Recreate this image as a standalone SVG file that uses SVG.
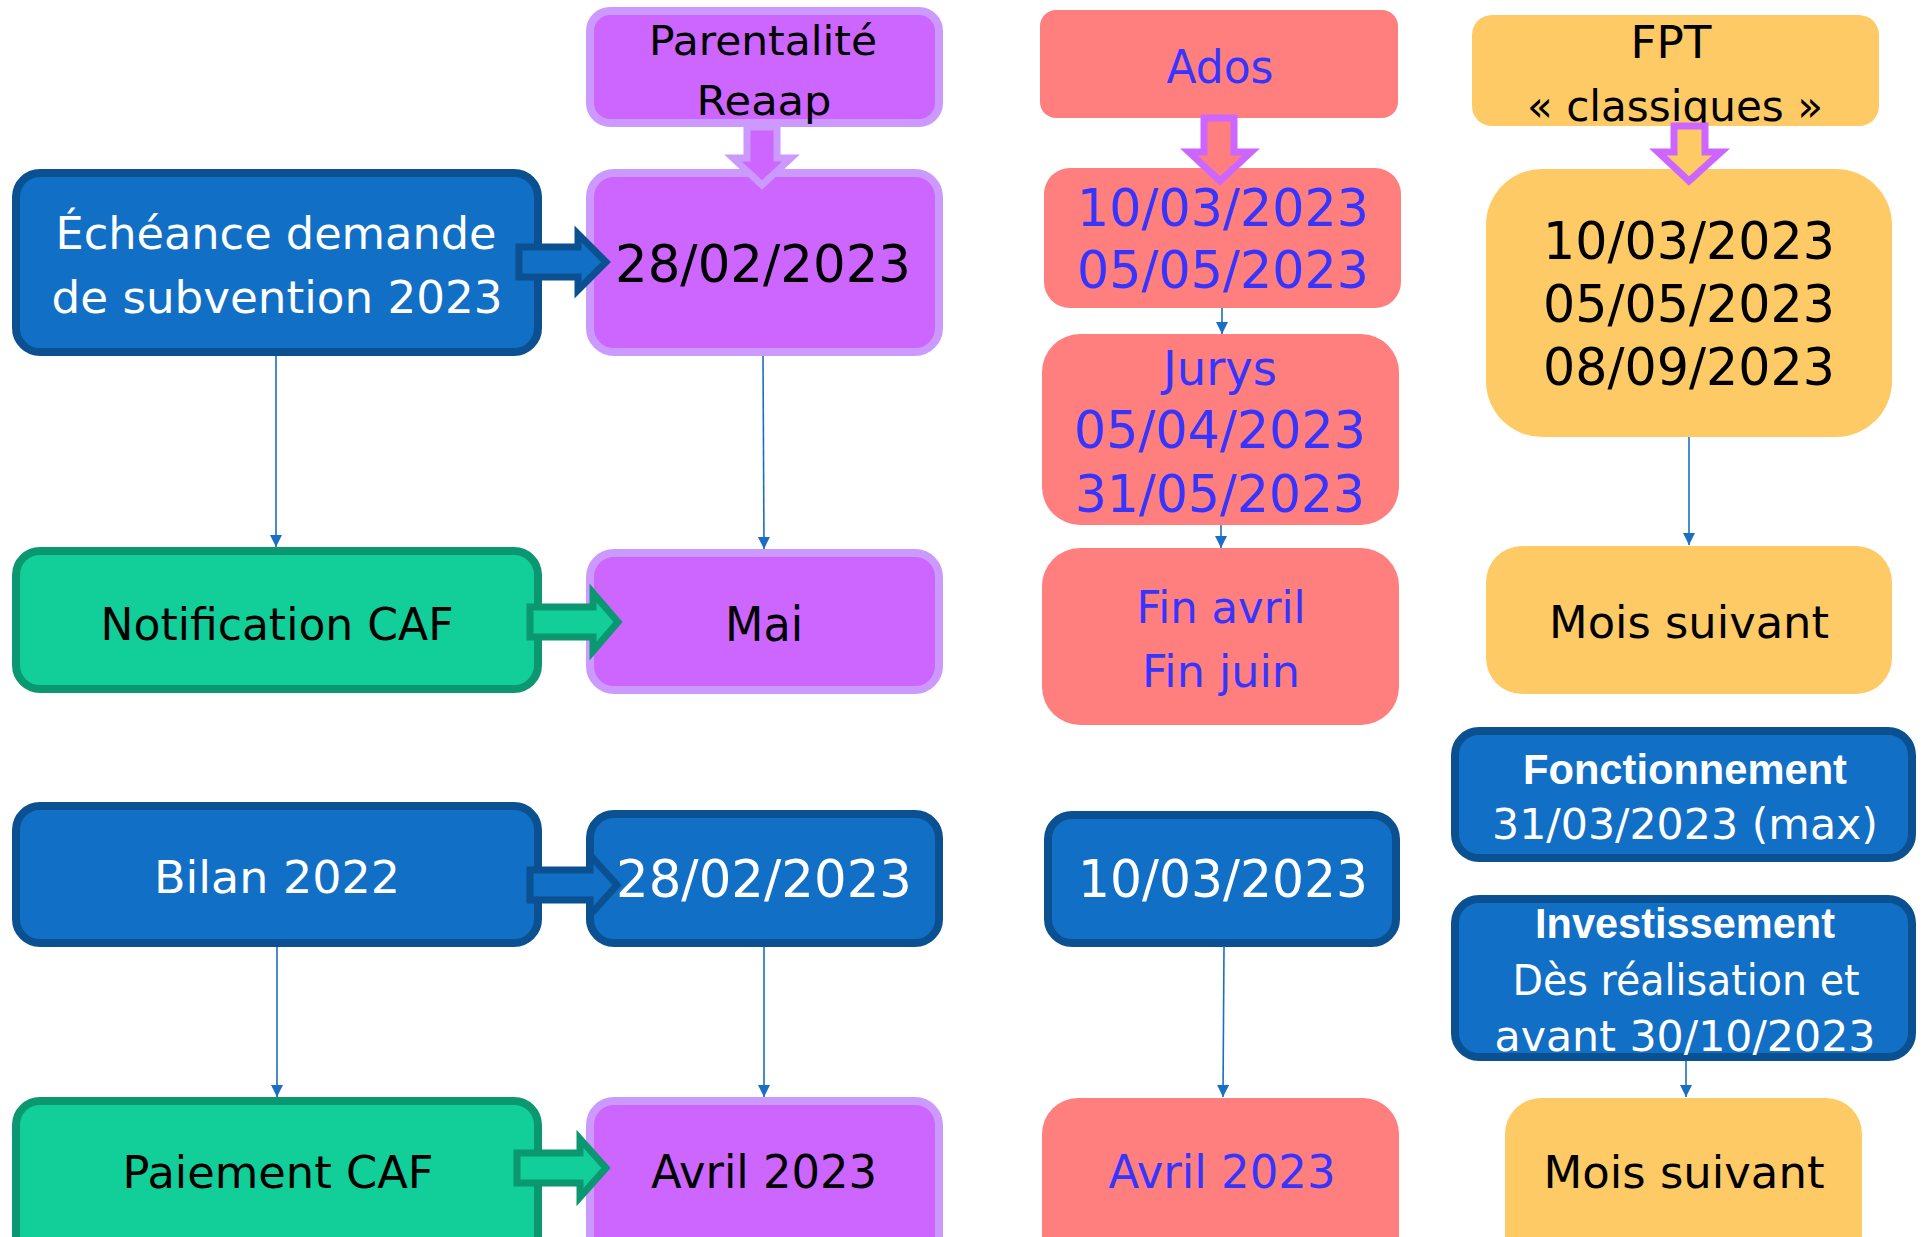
<svg xmlns="http://www.w3.org/2000/svg" width="1923" height="1237" viewBox="0 0 1923 1237">
<defs>
<style>
.t{font-family:"DejaVu Sans","Liberation Sans",sans-serif;text-anchor:middle}
.b{font-family:"Liberation Sans","DejaVu Sans",sans-serif;font-weight:bold;text-anchor:middle}
.blue{fill:#116FC5;stroke:#0B5091;stroke-width:8}
.green{fill:#12CE99;stroke:#0B9770;stroke-width:8}
.purple{fill:#CC66FF;stroke:#CC99FF;stroke-width:8}
.salmon{fill:#FF7F7F}
.orange{fill:#FECA66}
.wt{fill:#FFFFFF}
.bk{fill:#000000}
.bl{fill:#3535FF}
.conn{stroke:#1A6FC4;stroke-width:1.6;fill:none;marker-end:url(#ah)}
</style>
<marker id="ah" viewBox="0 0 12 16" refX="12" refY="6" markerWidth="12" markerHeight="16" markerUnits="userSpaceOnUse" orient="auto">
<path d="M0,0 L12,6 L0,12 Z" fill="#1A6FC4"/>
</marker>
</defs>
<rect width="1923" height="1237" fill="#FFFFFF"/>

<g id="echeance"><rect class="blue" x="16" y="173" width="522" height="179" rx="24"/>
<text class="t wt" x="276" y="249" font-size="45" textLength="441" lengthAdjust="spacingAndGlyphs">Échéance demande</text>
<text class="t wt" x="277" y="313" font-size="45" textLength="451" lengthAdjust="spacingAndGlyphs">de subvention 2023</text></g>

<g id="notification"><rect class="green" x="16" y="551" width="522" height="138" rx="24"/>
<text class="t bk" x="277" y="640" font-size="44" textLength="353" lengthAdjust="spacingAndGlyphs">Notification CAF</text></g>

<g id="bilan"><rect class="blue" x="16" y="806" width="522" height="137" rx="24"/>
<text class="t wt" x="277" y="893" font-size="44" textLength="246" lengthAdjust="spacingAndGlyphs">Bilan 2022</text></g>

<g id="paiement"><rect class="green" x="16" y="1101" width="522" height="170" rx="24"/>
<text class="t bk" x="278" y="1188" font-size="44" textLength="311" lengthAdjust="spacingAndGlyphs">Paiement CAF</text></g>

<g id="parentalite"><rect class="purple" x="590" y="11" width="349" height="112" rx="20"/>
<text class="t bk" x="763" y="55" font-size="41" textLength="228" lengthAdjust="spacingAndGlyphs">Parentalité</text>
<text class="t bk" x="764" y="115" font-size="41" textLength="135" lengthAdjust="spacingAndGlyphs">Reaap</text></g>

<g id="reaap-date"><rect class="purple" x="590" y="173" width="349" height="179" rx="24"/>
<text class="t bk" x="763" y="282" font-size="51" textLength="296" lengthAdjust="spacingAndGlyphs">28/02/2023</text></g>

<g id="mai"><rect class="purple" x="590" y="553" width="349" height="137" rx="24"/>
<text class="t bk" x="764" y="641" font-size="48" textLength="78" lengthAdjust="spacingAndGlyphs">Mai</text></g>

<g id="bilan-reaap"><rect class="blue" x="590" y="814" width="349" height="129" rx="24"/>
<text class="t wt" x="764" y="897" font-size="51" textLength="296" lengthAdjust="spacingAndGlyphs">28/02/2023</text></g>

<g id="avril-reaap"><rect class="purple" x="590" y="1101" width="349" height="170" rx="24"/>
<text class="t bk" x="764" y="1188" font-size="46" textLength="226" lengthAdjust="spacingAndGlyphs">Avril 2023</text></g>

<g id="ados"><rect class="salmon" x="1040" y="10" width="358" height="108" rx="16"/>
<text class="t bl" x="1220" y="83" font-size="46" textLength="107" lengthAdjust="spacingAndGlyphs">Ados</text></g>

<g id="ados-dates"><rect class="salmon" x="1044" y="168" width="357" height="140" rx="26"/>
<text class="t bl" x="1223" y="226" font-size="51" textLength="292" lengthAdjust="spacingAndGlyphs">10/03/2023</text>
<text class="t bl" x="1223" y="288" font-size="51" textLength="292" lengthAdjust="spacingAndGlyphs">05/05/2023</text></g>

<g id="jurys"><rect class="salmon" x="1042" y="334" width="357" height="191" rx="38"/>
<text class="t bl" x="1220" y="385" font-size="48" textLength="114" lengthAdjust="spacingAndGlyphs">Jurys</text>
<text class="t bl" x="1220" y="448" font-size="51" textLength="292" lengthAdjust="spacingAndGlyphs">05/04/2023</text>
<text class="t bl" x="1220" y="512" font-size="51" textLength="290" lengthAdjust="spacingAndGlyphs">31/05/2023</text></g>

<g id="fin"><rect class="salmon" x="1042" y="548" width="357" height="177" rx="38"/>
<text class="t bl" x="1221" y="623" font-size="45" textLength="169" lengthAdjust="spacingAndGlyphs">Fin avril</text>
<text class="t bl" x="1221" y="687" font-size="45" textLength="158" lengthAdjust="spacingAndGlyphs">Fin juin</text></g>

<g id="bilan-ados"><rect class="blue" x="1048" y="815" width="348" height="128" rx="24"/>
<text class="t wt" x="1223" y="897" font-size="51" textLength="290" lengthAdjust="spacingAndGlyphs">10/03/2023</text></g>

<g id="avril-ados"><rect class="salmon" x="1042" y="1098" width="357" height="180" rx="36"/>
<text class="t bl" x="1222" y="1188" font-size="46" textLength="227" lengthAdjust="spacingAndGlyphs">Avril 2023</text></g>

<g id="fpt"><rect class="orange" x="1472" y="15" width="407" height="111" rx="20"/>
<text class="t bk" x="1671" y="58" font-size="44" textLength="81" lengthAdjust="spacingAndGlyphs">FPT</text>
<text class="t bk" x="1675" y="121" font-size="43" textLength="296" lengthAdjust="spacingAndGlyphs">« classiques »</text></g>

<g id="fpt-dates"><rect class="orange" x="1486" y="169" width="406" height="268" rx="56"/>
<text class="t bk" x="1689" y="259" font-size="51" textLength="292" lengthAdjust="spacingAndGlyphs">10/03/2023</text>
<text class="t bk" x="1689" y="322" font-size="51" textLength="292" lengthAdjust="spacingAndGlyphs">05/05/2023</text>
<text class="t bk" x="1689" y="385" font-size="51" textLength="292" lengthAdjust="spacingAndGlyphs">08/09/2023</text></g>

<g id="fpt-mois"><rect class="orange" x="1486" y="546" width="406" height="148" rx="36"/>
<text class="t bk" x="1689" y="638" font-size="45" textLength="280" lengthAdjust="spacingAndGlyphs">Mois suivant</text></g>

<g id="fonctionnement"><rect class="blue" x="1455" y="731" width="457" height="127" rx="24"/>
<text class="b wt" x="1685" y="784" font-size="42" textLength="324" lengthAdjust="spacingAndGlyphs">Fonctionnement</text>
<text class="t wt" x="1685" y="839" font-size="42" textLength="386" lengthAdjust="spacingAndGlyphs">31/03/2023 (max)</text></g>

<g id="investissement"><rect class="blue" x="1455" y="899" width="457" height="158" rx="24"/>
<text class="b wt" x="1685" y="938" font-size="42" textLength="300" lengthAdjust="spacingAndGlyphs">Investissement</text>
<text class="t wt" x="1686" y="995" font-size="42" textLength="347" lengthAdjust="spacingAndGlyphs">Dès réalisation et</text>
<text class="t wt" x="1685" y="1051" font-size="42" textLength="381" lengthAdjust="spacingAndGlyphs">avant 30/10/2023</text></g>

<g id="fpt-mois-bilan"><rect class="orange" x="1505" y="1098" width="357" height="180" rx="36"/>
<text class="t bk" x="1684" y="1188" font-size="45" textLength="281" lengthAdjust="spacingAndGlyphs">Mois suivant</text></g>

<g id="connectors">
<line class="conn" x1="276" y1="356" x2="276" y2="547"/>
<line class="conn" x1="763" y1="356" x2="764" y2="549"/>
<line class="conn" x1="1222" y1="308" x2="1222" y2="334"/>
<line class="conn" x1="1221" y1="525" x2="1221" y2="548"/>
<line class="conn" x1="1689" y1="437" x2="1689" y2="545"/>
<line class="conn" x1="277" y1="947" x2="277" y2="1097"/>
<line class="conn" x1="764" y1="947" x2="764" y2="1097"/>
<line class="conn" x1="1224" y1="946" x2="1223" y2="1097"/>
<line class="conn" x1="1686" y1="1061" x2="1686" y2="1097"/>
<g stroke-width="7" stroke-linejoin="miter">
<polygon points="519,247 578,247 578,234 606,262 578,290 578,277 519,277" fill="#116FC5" stroke="#0B5091"/>
<polygon points="530,607 593,607 593,593 618,622 593,651 593,637 530,637" fill="#12CE99" stroke="#0B9770"/>
<polygon points="530,870 590,870 590,855 617,885 590,915 590,900 530,900" fill="#116FC5" stroke="#0B5091"/>
<polygon points="517,1153 580,1153 580,1139 606,1168 580,1197 580,1183 517,1183" fill="#12CE99" stroke="#0B9770"/>
<polygon points="747,127 777,127 777,158 791,158 762,185 733,158 747,158" fill="#CC66FF" stroke="#CC99FF"/>
<polygon points="1204,118 1234,118 1234,152 1251,152 1220,181 1189,152 1204,152" fill="#FF7F7F" stroke="#CC66FF"/>
<polygon points="1674,126 1705,126 1705,152 1721,152 1689,181 1658,152 1674,152" fill="#FECA66" stroke="#CC66FF"/>
</g>
</g>
</svg>
